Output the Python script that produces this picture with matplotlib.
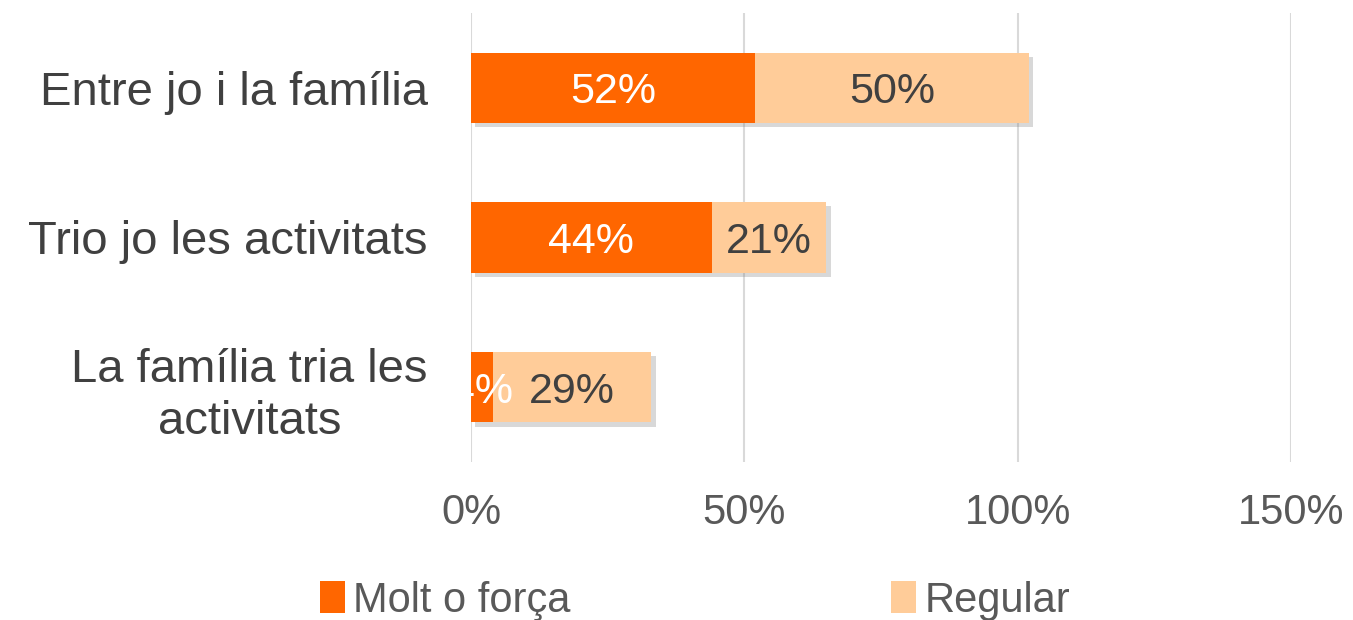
import matplotlib.pyplot as plt
import matplotlib.patheffects as pe
from matplotlib.patches import Patch
from matplotlib.ticker import PercentFormatter

plt.rcParams['font.family'] = ['Liberation Sans', 'DejaVu Sans']

# Daten
categories = ["Entre jo i la família", "Trio jo les activitats", "La família tria les\nactivitats"]
molt = [0.52, 0.44, 0.04]
regular = [0.50, 0.21, 0.29]
series_names = ["Molt o força", "Regular"]
colors = ["#FF6600", "#FFCC99"]

fig = plt.figure(figsize=(13.53, 6.2), dpi=100)
ax = fig.add_axes([471 / 1353, 1 - 462 / 620, 820 / 1353, 449 / 620])

y = list(range(len(categories)))
shadow = [pe.SimplePatchShadow(offset=(3, -3), alpha=0.3, shadow_rgbFace="#808080"), pe.Normal()]

b1 = ax.barh(y, molt, height=0.47, color=colors[0], zorder=3)
b2 = ax.barh(y, regular, left=molt, height=0.47, color=colors[1], zorder=3)
for bars in (b1, b2):
    for p in bars:
        p.set_path_effects(shadow)

# Beschriftungen
for i in y:
    ax.text(molt[i] / 2, i, f"{molt[i]:.0%}", ha="center", va="center_baseline",
            color="white", fontsize=31, zorder=5)
    ax.text(molt[i] + regular[i] / 2, i, f"{regular[i]:.0%}", ha="center", va="center_baseline",
            color="#404040", fontsize=31, zorder=5)

ax.set_xlim(0, 1.5)
ax.set_ylim(len(categories) - 0.5, -0.5)
ax.set_xticks([0, 0.5, 1.0, 1.5])
ax.xaxis.set_major_formatter(PercentFormatter(1.0, decimals=0))
ax.set_yticks(y)
ax.set_yticklabels(categories, linespacing=1.22)
for lab in ax.get_yticklabels():
    lab.set_multialignment("center")

ax.tick_params(axis="y", length=0, pad=31, labelsize=34, labelcolor="#404040")
ax.tick_params(axis="x", length=0, pad=22, labelsize=30, labelcolor="#595959")
ax.grid(axis="x", color="#D9D9D9", linewidth=1.5, zorder=0)
for s in ax.spines.values():
    s.set_visible(False)

handles = [Patch(facecolor=c, label=n) for c, n in zip(colors, series_names)]
fig.legend(handles=handles, loc="lower left", bbox_to_anchor=(303 / 1353, -0.028), ncol=2,
           frameon=False, fontsize=30, labelcolor="#595959", handlelength=0.6,
           handleheight=0.8, handletextpad=0.2, columnspacing=7.7, borderaxespad=0)

fig.savefig("out.png", dpi=100)
